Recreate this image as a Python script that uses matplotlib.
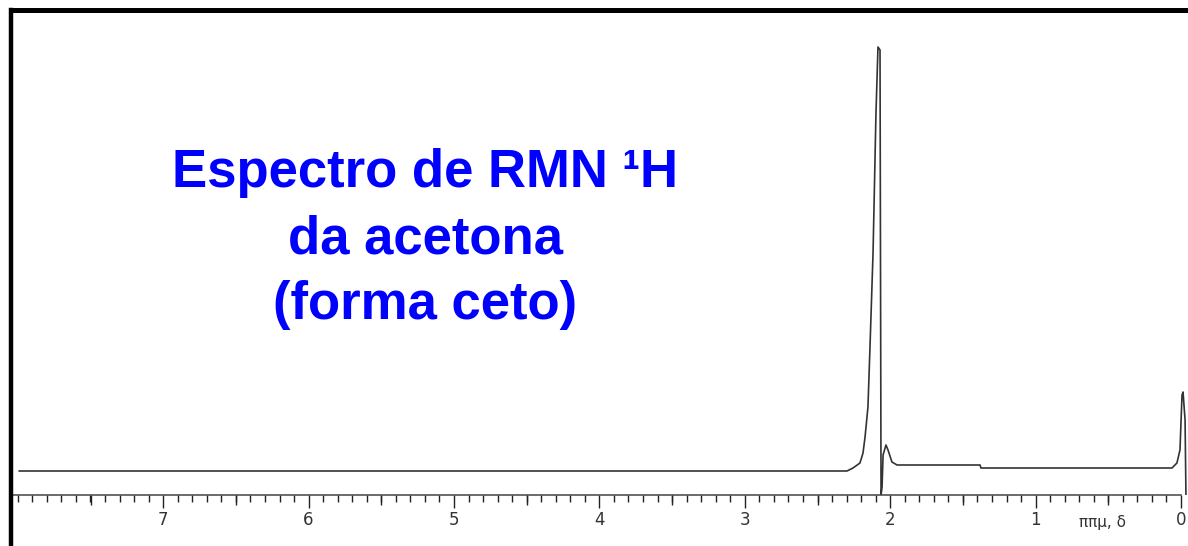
import numpy as np
import matplotlib
matplotlib.use("Agg")
import matplotlib.pyplot as plt
from matplotlib.ticker import FixedLocator, MultipleLocator, NullFormatter
from matplotlib.lines import Line2D

# spectrum (chemical shift in ppm, intensity in arbitrary units)
ppm = [7.99, 2.297, 2.256, 2.208, 2.187, 2.173, 2.153, 2.139, 2.118, 2.098,
       2.084, 2.070, 2.063, 2.056, 2.049, 2.029, 2.015, 1.988, 1.953, 1.382,
       1.376, 0.062, 0.028, 0.007, -0.007, -0.014, -0.028, -0.034]
intensity = [24, 24, 27, 32, 42, 58, 88, 148, 242, 381,
             448, 445, 0, 8, 40, 50, 45, 33, 30, 30,
             27, 27, 32, 45, 100, 103, 75, 0]

major_ticks = [0, 1, 2, 3, 4, 5, 6, 7]
half_ticks = [0.5, 1.5, 2.5, 3.5, 4.5, 5.5, 6.5, 7.5]
title_lines = ["Espectro de RMN \u00b9H", "da acetona", "(forma ceto)"]
x_label = "ππμ, δ"

W, H = 1188, 546
fig = plt.figure(figsize=(W / 100, H / 100), dpi=100)
ax = fig.add_axes([11 / W, 51 / H, 1 - 11 / W, (495 - 9.5) / H])

ax.plot(ppm, intensity, color='#333333', lw=1.2)
ax.set_xlim((1181 - 11) / 145.4, (1181 - 1188) / 145.4)
ax.set_ylim(0, 495 - 9.5)

# frame: heavy top / left, thin bottom axis, no right side
ax.spines['right'].set_visible(False)
ax.spines['left'].set_visible(False)
ax.spines['top'].set_linewidth(3.6)
ax.spines['top'].set_color('black')
ax.spines['bottom'].set_linewidth(1.1)
ax.spines['bottom'].set_color('#444444')
ax.spines['bottom'].set_bounds(ax.get_xlim()[0], 0)
fig.add_artist(Line2D([11 / W, 11 / W], [0, 1 - 9.5 / H], color='black',
                      lw=3.2, transform=fig.transFigure))

ax.set_yticks([])
ax.xaxis.set_major_locator(FixedLocator(major_ticks))
ax.xaxis.set_minor_locator(MultipleLocator(0.1))
ax.xaxis.set_minor_formatter(NullFormatter())
ax.tick_params(axis='x', which='major', direction='out', length=9.5, width=1.0,
               color='#222222', labelsize=12, labelcolor='#333333', pad=2)
ax.tick_params(axis='x', which='minor', direction='out', length=5, width=1.0,
               color='#222222')

# medium ticks at the half-ppm marks
sec = ax.secondary_xaxis('bottom')
sec.spines['bottom'].set_visible(False)
sec.xaxis.set_major_locator(FixedLocator(half_ticks))
sec.xaxis.set_major_formatter(NullFormatter())
sec.tick_params(axis='x', which='major', direction='out', length=7.2, width=1.0,
                color='#222222')
sec.xaxis.set_minor_locator(FixedLocator([]))

ax.text(0.54, -27 / 485.5, x_label, transform=ax.get_xaxis_transform(),
        ha='center', va='center', fontsize=11, color='#333333',
        family='DejaVu Sans')

baselines = [187, 253, 319]
for line, yb in zip(title_lines, baselines):
    fig.text(425 / W, 1 - yb / H, line, ha='center', va='baseline',
             fontsize=38, fontweight='bold', color='#0000ff',
             family='Liberation Sans')

fig.savefig('out.png', dpi=100)
